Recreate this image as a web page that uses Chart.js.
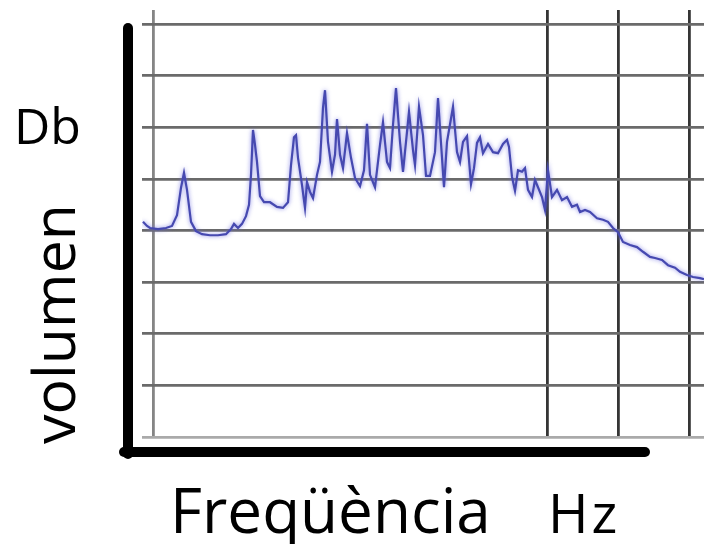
<!DOCTYPE html>
<html>
<head>
<meta charset="utf-8">
<title>Freqüència - volumen</title>
<script src="https://cdn.jsdelivr.net/npm/chart.js@4/dist/chart.umd.min.js"></script>
<style>
  html, body { margin: 0; padding: 0; background: #fff; }
  #wrap { width: 704px; height: 544px; }
</style>
</head>
<body>
<div id="wrap"><canvas id="spectrum" width="704" height="544"></canvas></div>
<script>
  /* ── data ── */
  // position along the frequency axis (arbitrary units, one per pixel of the original)
  const freqPos = [
    2, 6, 9, 17, 25, 31, 36, 40, 43, 46, 50, 55, 61, 69, 77, 85, 90, 93, 97, 101,
    105, 108, 110, 112, 114, 116, 119, 123, 129, 136, 142, 147, 150, 153, 155, 157, 161, 164, 166, 169,
    172, 176, 179, 182, 184, 187, 191, 194, 196, 199, 202, 206, 210, 214, 219, 223, 226, 229, 234, 239,
    242, 246, 249, 252, 255, 259, 262, 265, 268, 272, 274, 278, 282, 285, 289, 294, 297, 301, 303, 306,
    312, 316, 319, 322, 326, 330, 333, 336, 339, 342, 347, 352, 357, 362, 366, 368, 371, 374, 377, 381,
    384, 387, 391, 394, 397, 401, 404, 407, 411, 416, 421, 426, 431, 436, 439, 444, 449, 456, 462, 467,
    472, 477, 482, 489, 496, 502, 509, 514, 521, 527, 534, 539, 546, 552, 559, 563
  ];

  // level in dB
  const levelDb = [
    41.7, 40.9, 40.5, 40.3, 40.5, 40.9, 43.0, 48.3, 51.2, 47.9, 41.7, 39.9, 39.3, 39.1, 39.1, 39.3, 40.3, 41.3, 40.5, 41.3,
    42.8, 45.0, 50.8, 59.5, 56.6, 53.3, 46.7, 45.5, 45.5, 44.6, 44.4, 45.5, 52.7, 58.1, 58.5, 54.1, 48.8, 44.4, 49.4, 47.5,
    46.3, 50.8, 53.3, 63.8, 67.2, 57.2, 51.4, 54.7, 61.6, 54.7, 52.1, 58.9, 54.1, 50.2, 48.6, 51.7, 60.7, 50.8, 48.4, 56.6,
    61.0, 53.3, 52.1, 60.5, 67.6, 57.2, 51.4, 57.2, 63.0, 55.6, 52.7, 64.0, 58.5, 50.6, 50.6, 55.2, 65.7, 54.1, 48.4, 57.2,
    64.0, 55.2, 53.3, 57.2, 58.3, 49.0, 52.1, 57.0, 58.1, 55.0, 56.8, 55.2, 55.0, 56.8, 57.6, 56.2, 50.4, 47.7, 51.7, 51.4,
    52.1, 47.9, 46.5, 49.8, 48.4, 46.5, 44.0, 51.7, 46.5, 47.9, 45.9, 46.5, 44.6, 45.0, 43.6, 44.0, 43.6, 42.4, 42.1, 41.7,
    40.5, 39.7, 37.8, 37.2, 36.8, 35.9, 34.9, 34.7, 34.3, 33.3, 32.8, 32.0, 31.4, 31.0, 30.8, 30.6
  ];

  // grid positions
  const freqGrid  = [12, 406, 477, 548];
  const levelGrid = [0, 10, 20, 30, 40, 50, 60, 70, 80];

  const points = freqPos.map((x, i) => ({ x, y: levelDb[i] }));

  /* ── thick hand-drawn axes + labels ── */
  const decorPlugin = {
    id: "decor",
    beforeDatasetDraw(chart) {
      const ctx = chart.ctx;
      ctx.save();
      ctx.shadowColor = "rgba(110,110,225,0.85)";
      ctx.shadowBlur  = 4;
    },
    afterDatasetDraw(chart) {
      chart.ctx.restore();
    },
    afterDraw(chart) {
      const { ctx, chartArea: a } = chart;
      ctx.save();
      ctx.strokeStyle = "#000";
      ctx.lineWidth   = 10;
      ctx.lineCap     = "round";
      ctx.beginPath();
      ctx.moveTo(a.left - 14, a.top + 18);
      ctx.lineTo(a.left - 14, a.bottom + 17);
      ctx.stroke();
      ctx.beginPath();
      ctx.moveTo(a.left - 18, a.bottom + 15);
      ctx.lineTo(a.left + 503, a.bottom + 15);
      ctx.stroke();

      ctx.fillStyle    = "#000";
      ctx.textBaseline = "alphabetic";
      ctx.textAlign    = "left";

      ctx.font = "50px 'Open Sans'";
      ctx.fillText("Db", 14, 144);

      ctx.font = "62px 'Open Sans'";
      ctx.fillText("Freqüència", 170, 533);

      ctx.font = "55px 'Open Sans'";
      ctx.letterSpacing = "3px";
      ctx.fillText("Hz", 548, 533);
      ctx.letterSpacing = "0px";

      ctx.translate(75, 444);
      ctx.rotate(-Math.PI / 2);
      ctx.font = "59px 'Open Sans'";
      ctx.fillText("volumen", 0, 0);
      ctx.restore();
    },
  };

  new Chart(document.getElementById("spectrum"), {
    type: "line",
    data: {
      datasets: [
        {
          data: points,
          borderColor: "#4649b0",
          borderWidth: 2.2,
          pointRadius: 0,
          tension: 0,
          fill: false,
        },
      ],
    },
    options: {
      responsive: false,
      animation: false,
      devicePixelRatio: 1,
      layout: { padding: { left: 142, right: 0, top: 10, bottom: 107 } },
      plugins: {
        legend: { display: false },
        tooltip: { enabled: false },
      },
      scales: {
        x: {
          type: "linear",
          min: 1,
          max: 563,
          afterBuildTicks: (axis) => { axis.ticks = freqGrid.map((v) => ({ value: v })); },
          ticks: { display: false },
          border: { display: false },
          grid: {
            drawTicks: false,
            lineWidth: 2.8,
            color: (c) => (c.index === 0 ? "#858585" : "#353535"),
          },
        },
        y: {
          type: "linear",
          min: 0,
          max: 82.75,
          afterBuildTicks: (axis) => { axis.ticks = levelGrid.map((v) => ({ value: v })); },
          ticks: { display: false },
          border: { display: false },
          grid: {
            drawTicks: false,
            lineWidth: 2.8,
            color: (c) => (c.index === 0 ? "#aaaaaa" : "#6a6a6a"),
          },
        },
      },
    },
    plugins: [decorPlugin],
  });
</script>
</body>
</html>
